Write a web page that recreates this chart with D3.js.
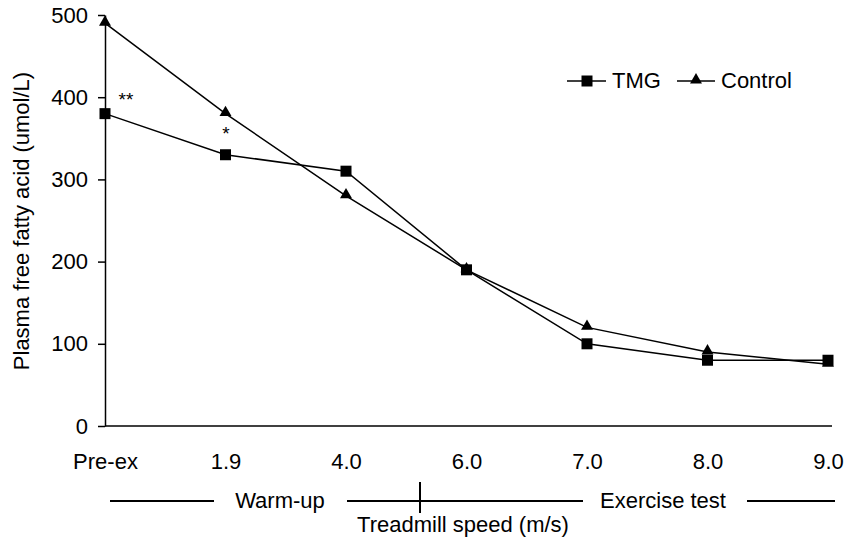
<!DOCTYPE html>
<html>
<head>
<meta charset="utf-8">
<script src="https://cdn.jsdelivr.net/npm/d3@7"></script>
<style>
  body { margin: 0; background: #fff; }
  svg { font-family: "Liberation Sans", Arial, sans-serif; }
</style>
</head>
<body>
<div id="chart"></div>
<script>
const speeds = ["Pre-ex", "1.9", "4.0", "6.0", "7.0", "8.0", "9.0"]
const tmg = [380, 330, 310, 190, 100, 80, 80]
const control = [490, 380, 280, 190, 120, 90, 75]
const yTicks = [0, 100, 200, 300, 400, 500]

const W = 847, H = 541
const fs = 22

const svg = d3.select("#chart").append("svg")
    .attr("width", W)
    .attr("height", H)

const x = d3.scalePoint().domain(speeds).range([105, 828])
const y = d3.scaleLinear().domain([0, 500]).range([426, 15])

// y axis
const yAxis = svg.append("g")
    .attr("transform", "translate(105,0)")
    .call(d3.axisLeft(y).tickValues(yTicks).tickSize(7).tickSizeOuter(0).tickPadding(10))
yAxis.select(".domain").attr("stroke-width", 1.5)
yAxis.selectAll(".tick line").attr("stroke-width", 1.5)
yAxis.selectAll("text").attr("font-size", fs).attr("fill", "#000")

// x axis
const xAxis = svg.append("g")
    .attr("transform", "translate(0,426)")
    .call(d3.axisBottom(x).tickSize(0).tickPadding(27))
xAxis.select(".domain").attr("d", "M105,0H832").attr("stroke-width", 1.5)
xAxis.selectAll("text").attr("font-size", fs).attr("fill", "#000")

// y title
svg.append("text")
    .attr("transform", "translate(29,221) rotate(-90)")
    .attr("text-anchor", "middle")
    .attr("font-size", fs)
    .text("Plasma free fatty acid (umol/L)")

// lines
const line = d3.line().x((d, i) => x(speeds[i])).y(d => y(d))

svg.append("path").datum(tmg)
    .attr("d", line).attr("fill", "none").attr("stroke", "#000").attr("stroke-width", 1.5)
svg.append("path").datum(control)
    .attr("d", line).attr("fill", "none").attr("stroke", "#000").attr("stroke-width", 1.5)

const square = d3.symbol().type(d3.symbolSquare).size(121)
const triangle = d3.symbol().type(d3.symbolTriangle).size(62)

svg.selectAll(".tri").data(control).enter().append("path")
    .attr("class", "tri")
    .attr("d", triangle)
    .attr("transform", (d, i) => `translate(${x(speeds[i])},${y(d) - 1})`)
    .attr("fill", "#000")

svg.selectAll(".sq").data(tmg).enter().append("path")
    .attr("class", "sq")
    .attr("d", square)
    .attr("transform", (d, i) => `translate(${x(speeds[i])},${y(d)})`)
    .attr("fill", "#000")

// significance marks
svg.append("text").attr("x", 126).attr("y", 106).attr("text-anchor", "middle")
    .attr("font-size", 19).text("**")
svg.append("text").attr("x", 226).attr("y", 140).attr("text-anchor", "middle")
    .attr("font-size", 19).text("*")

// legend
const legend = svg.append("g")
legend.append("line").attr("x1", 567).attr("x2", 606).attr("y1", 81).attr("y2", 81)
    .attr("stroke", "#000").attr("stroke-width", 1.5)
legend.append("path").attr("d", square).attr("transform", "translate(587,81)")
legend.append("text").attr("x", 612).attr("y", 88).attr("font-size", fs).text("TMG")
legend.append("line").attr("x1", 677).attr("x2", 715).attr("y1", 81).attr("y2", 81)
    .attr("stroke", "#000").attr("stroke-width", 1.5)
legend.append("path").attr("d", triangle).attr("transform", "translate(696,80)")
legend.append("text").attr("x", 721).attr("y", 88).attr("font-size", fs).text("Control")

// phase bar under the axis
const bar = svg.append("g").attr("stroke", "#000").attr("stroke-width", 2)
bar.append("line").attr("x1", 110).attr("x2", 214).attr("y1", 501).attr("y2", 501)
bar.append("line").attr("x1", 347).attr("x2", 583).attr("y1", 501).attr("y2", 501)
bar.append("line").attr("x1", 747).attr("x2", 835).attr("y1", 501).attr("y2", 501)
bar.append("line").attr("x1", 420).attr("x2", 420).attr("y1", 482).attr("y2", 513)

svg.append("text").attr("x", 280).attr("y", 508).attr("text-anchor", "middle")
    .attr("font-size", fs).text("Warm-up")
svg.append("text").attr("x", 663).attr("y", 508).attr("text-anchor", "middle")
    .attr("font-size", fs).text("Exercise test")
svg.append("text").attr("x", 463).attr("y", 532).attr("text-anchor", "middle")
    .attr("font-size", fs).text("Treadmill speed (m/s)")
</script>
</body>
</html>
